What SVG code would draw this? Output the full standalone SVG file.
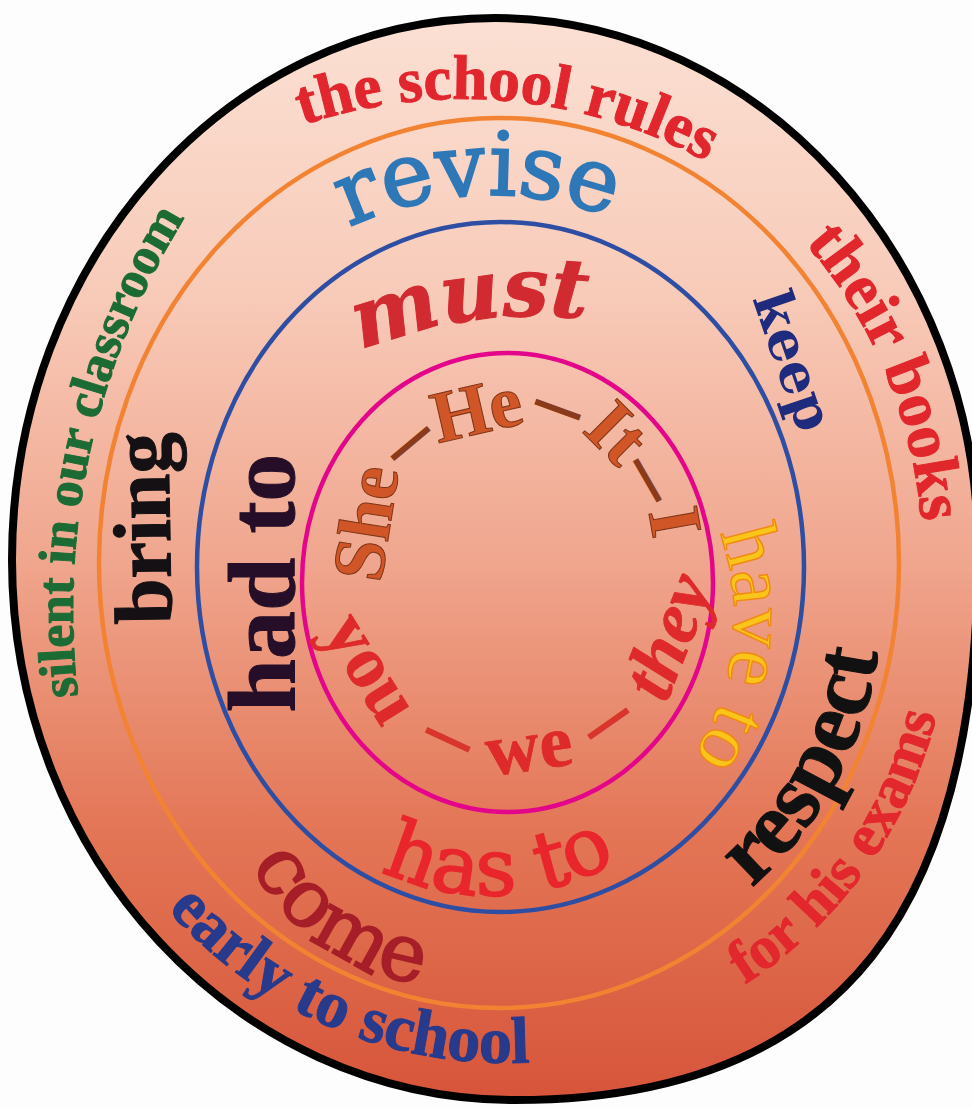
<svg xmlns="http://www.w3.org/2000/svg" width="972" height="1107" viewBox="0 0 972 1107">
<defs>
<linearGradient id="bg" x1="0" y1="20" x2="0" y2="1100" gradientUnits="userSpaceOnUse">
<stop offset="0" stop-color="#fbe0d3"/>
<stop offset="0.25" stop-color="#f8cbb9"/>
<stop offset="0.5" stop-color="#f0a68e"/>
<stop offset="0.75" stop-color="#e37656"/>
<stop offset="1" stop-color="#d7553a"/>
</linearGradient>
<path id="p-rules" d="M175,189.4 A504,504 0 0 1 820.3,247.6"/>
<path id="p-revise" d="M268.6,281.4 A332,332 0 0 1 695,264.3"/>
<path id="p-must" d="M259.4,410.6 A446,446 0 0 1 701.1,348.5"/>
<path id="p-books" d="M678.2,144.3 A424,462 0 0 1 908.5,682.6"/>
<path id="p-silent" d="M107.1,833.3 A745,745 0 0 1 269.6,106.2"/>
<path id="p-early" d="M88.2,781 A452,452 0 0 0 677,1029.8"/>
<path id="p-exams" d="M619.7,1038.8 A439,439 0 0 0 946.6,578.8"/>
<path id="p-respect" d="M646.2,951.4 A373,373 0 0 0 873.2,529.1"/>
<path id="p-have" d="M692.3,476.7 A257,257 0 0 1 652.6,804.7"/>
<path id="p-has" d="M333.5,841.7 A255,255 0 0 0 661.5,829.1"/>
<path id="p-come" d="M231.1,802.7 A220,220 0 0 0 485.3,982.1"/>
</defs>
<style>
.lb{font-family:'Liberation Serif','DejaVu Serif',serif;font-weight:bold}
.lr{font-family:'Liberation Serif','DejaVu Serif',serif;font-weight:normal}
.dj{font-family:'DejaVu Serif','Liberation Serif',serif;font-weight:normal}
.djb{font-family:'DejaVu Serif','Liberation Serif',serif;font-weight:bold}
.ring{fill:none;stroke-width:4.5}
.pron{font-family:'Liberation Serif','DejaVu Serif',serif;font-weight:bold;font-size:74px;fill:#d05527;stroke:#7d3417;stroke-width:1}
.pron2{font-family:'Liberation Serif','DejaVu Serif',serif;font-weight:bold;font-size:74px;fill:#de2a2a;stroke:#de2a2a;stroke-width:0.8}
.dash{font-family:'Liberation Serif','DejaVu Serif',serif;font-weight:bold;font-size:44px;stroke-width:3}
</style>
<rect width="972" height="1107" fill="#fdfdfd"/>
<g id="shape">
<path id="outer" d="M495,18 C760,18 978,260 978,550 C978,900 850,1100 515,1100 C237,1100 12,858 12,560 C12,261 228,18 495,18 Z" fill="url(#bg)" stroke="#000" stroke-width="8"/>
<ellipse id="ring-orange" class="ring" cx="499" cy="563" rx="400" ry="445" stroke="#f28332"/>
<ellipse id="ring-blue" class="ring" cx="500.5" cy="567" rx="303.5" ry="345" stroke="#2d4ea3"/>
<ellipse id="ring-magenta" class="ring" cx="507.5" cy="582.5" rx="205.5" ry="229.5" stroke="#e4068a"/>
</g>
<g id="outer-band">
<text id="t-rules" class="lb" font-size="63" fill="#e2262d" stroke="#e2262d" stroke-width="1"><textPath href="#p-rules" startOffset="50%" text-anchor="middle">the school rules</textPath></text>
<text id="t-books" class="lb" font-size="64" fill="#e1262c" stroke="#e1262c" stroke-width="1"><textPath href="#p-books" startOffset="50%" text-anchor="middle">their books</textPath></text>
<text id="t-silent" class="lb" font-size="52" fill="#1d6b34" stroke="#1d6b34" stroke-width="1"><textPath href="#p-silent" startOffset="50%" text-anchor="middle">silent in our classroom</textPath></text>
<text id="t-early" class="lb" font-size="66" fill="#273a8c" stroke="#273a8c" stroke-width="1"><textPath href="#p-early" startOffset="50%" text-anchor="middle">early to school</textPath></text>
<text id="t-exams" class="lb" font-size="60" fill="#e2272d" stroke="#e2272d" stroke-width="1"><textPath href="#p-exams" startOffset="50%" text-anchor="middle">for his exams</textPath></text>
</g>
<g id="middle-band">
<text id="t-revise" class="dj" font-size="88" fill="#2f78b7" stroke="#2f78b7" stroke-width="2"><textPath href="#p-revise" startOffset="50%" text-anchor="middle">revise</textPath></text>
<text id="t-keep" class="djb" font-size="54" fill="#1f2b7c" text-anchor="middle" transform="translate(789,362) rotate(71)" x="0" y="14">keep</text>
<text id="t-respect" class="lb" font-size="90" fill="#111" stroke="#111" stroke-width="1"><textPath href="#p-respect" startOffset="50%" text-anchor="middle">respect</textPath></text>
<text id="t-come" class="dj" font-size="80" fill="#a61e28" stroke="#a61e28" stroke-width="1.8"><textPath href="#p-come" startOffset="50%" text-anchor="middle">come</textPath></text>
<text id="t-bring" class="lb" font-size="82" fill="#141014" stroke="#141014" stroke-width="1" text-anchor="middle" transform="translate(170,528) rotate(-91)">bring</text>
</g>
<g id="inner-band">
<text id="t-must" class="djb" font-size="82" font-style="italic" fill="#d12a30" stroke="#d12a30" stroke-width="1"><textPath href="#p-must" startOffset="50%" text-anchor="middle">must</textPath></text>
<text id="t-have" class="lr" font-size="80" fill="#f9c51b" stroke="#f08a12" stroke-width="1.5"><textPath href="#p-have" startOffset="50%" text-anchor="middle">have to</textPath></text>
<text id="t-has" class="dj" font-size="80" fill="#e8262c" stroke="#e8262c" stroke-width="1.8"><textPath href="#p-has" startOffset="50%" text-anchor="middle">has to</textPath></text>
<text id="t-had" class="lb" font-size="96" fill="#260e28" stroke="#260e28" stroke-width="1" text-anchor="middle" transform="translate(294,583) rotate(-90)">had to</text>
</g>
<g id="pronouns">
<text id="t-she" class="pron" text-anchor="middle" transform="translate(390,527) rotate(-81)">She</text>
<text id="t-he" class="pron" text-anchor="middle" transform="translate(482,433) rotate(-13)">He</text>
<text id="t-it" class="pron" text-anchor="middle" transform="translate(600,450) rotate(45)">It</text>
<text id="t-i" class="pron" text-anchor="middle" transform="translate(651,526) rotate(80)">I</text>
<text id="t-you" class="pron2" text-anchor="middle" transform="translate(352,680) rotate(58)">you</text>
<text id="t-we" class="pron2" text-anchor="middle" transform="translate(532,770) rotate(-8)">we</text>
<text id="t-they" class="pron2" font-style="italic" text-anchor="middle" transform="translate(690,645) rotate(-68)">they</text>
<text class="dash" fill="#8a3b1c" stroke="#8a3b1c" text-anchor="middle" y="11" transform="translate(410,443) rotate(-40)">—</text>
<text class="dash" fill="#8a3b1c" stroke="#8a3b1c" text-anchor="middle" y="11" transform="translate(558,409) rotate(20)">—</text>
<text class="dash" fill="#8a3b1c" stroke="#8a3b1c" text-anchor="middle" y="11" transform="translate(648,480) rotate(60)">—</text>
<text class="dash" fill="#d8352c" stroke="#d8352c" text-anchor="middle" y="11" transform="translate(448,739) rotate(25)">—</text>
<text class="dash" fill="#d8352c" stroke="#d8352c" text-anchor="middle" y="11" transform="translate(608,723) rotate(-35)">—</text>
</g>
</svg>
